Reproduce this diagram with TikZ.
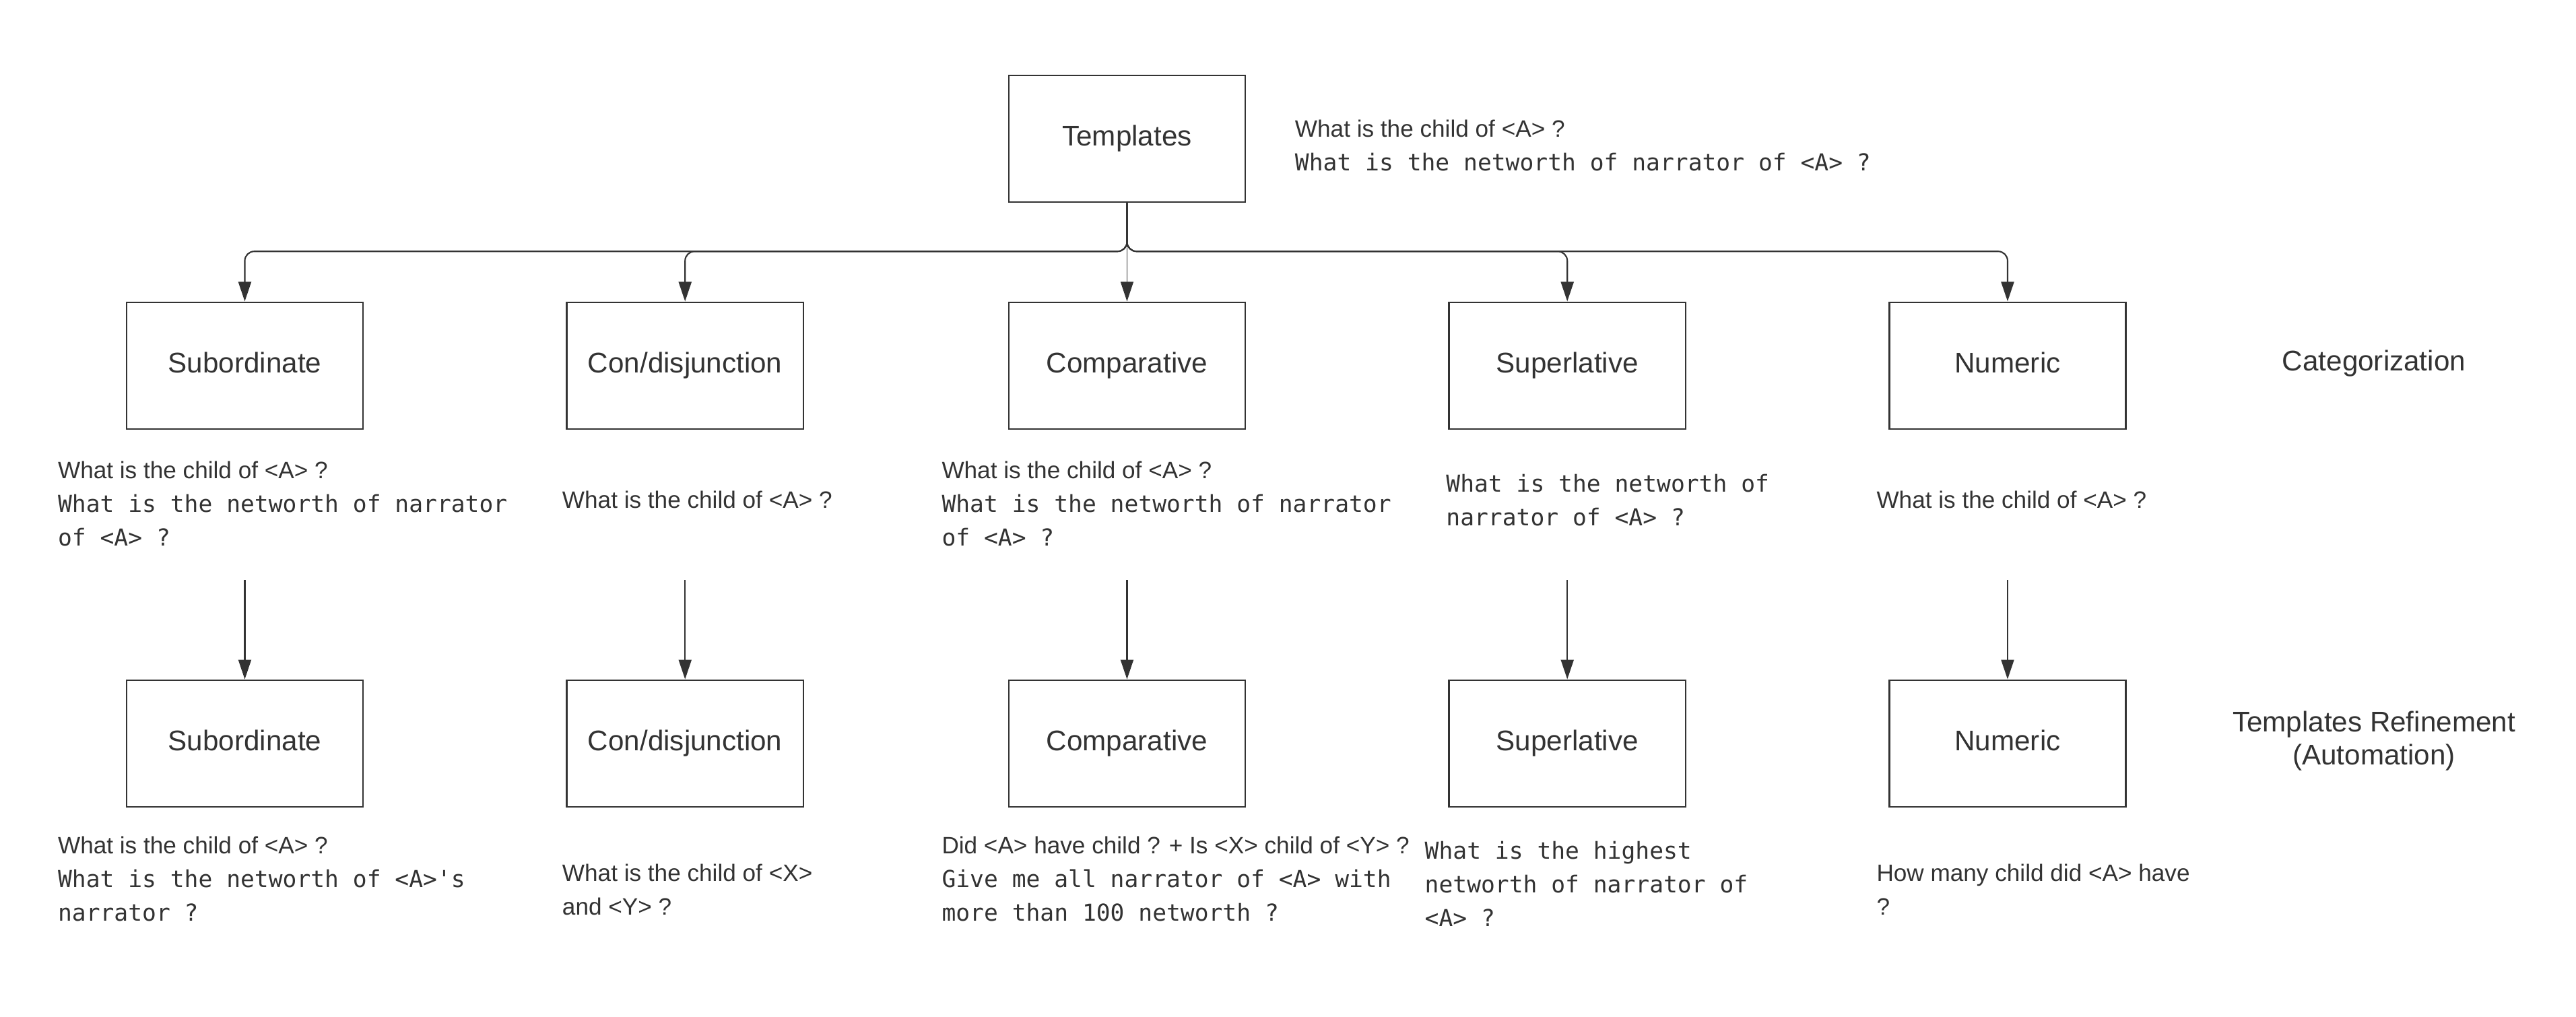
\documentclass[tikz,border=0pt]{standalone}
\usepackage{fontspec}
\setmainfont{Liberation Sans}
\setmonofont[Scale=0.985]{DejaVu Sans Mono}
\usetikzlibrary{arrows.meta}
\definecolor{ink}{HTML}{333333}
\tikzset{
  box/.style={draw=ink, line width=0.7pt, minimum width=3.51cm, minimum height=1.88cm,
    text height=9pt, text depth=3pt, font=\fontsize{12}{14}\selectfont, text=ink},
  qtext/.style={anchor=west, align=left, inner sep=0pt, font=\fontsize{10}{14.2}\selectfont, text=ink},
  lbl/.style={align=center, font=\fontsize{12}{14}\selectfont, text=ink},
  link/.style={draw=ink, line width=0.6pt, -{Triangle[length=0.29cm, width=0.19cm]}},
}
\begin{document}
\begin{tikzpicture}[x=0.02439cm, y=-0.02439cm]
    \useasboundingbox (0,0) rectangle (1568,619);
    \node[box] (tmpl) at (686,84.5) {Templates};
    \node[qtext] (tq) at (788,88.5) {What is the child of <A> ?\\\ttfamily What is the networth of narrator of <A> ?};

    \node[box] (cat1) at (149,222.5) {Subordinate};
    \node[box] (cat2) at (417,222.5) {Con/disjunction};
    \node[box] (cat3) at (686,222.5) {Comparative};
    \node[box] (cat4) at (954,222.5) {Superlative};
    \node[box] (cat5) at (1222,222.5) {Numeric};
    \node[lbl] (catlbl) at (1445,221) {Categorization};

    \node[qtext] (cq1) at (35,306.5) {What is the child of <A> ?\\\ttfamily What is the networth of narrator\\\ttfamily of <A> ?};
    \node[qtext] (cq2) at (342,304) {What is the child of <A> ?};
    \node[qtext] (cq3) at (573,306.5) {What is the child of <A> ?\\\ttfamily What is the networth of narrator\\\ttfamily of <A> ?};
    \node[qtext] (cq4) at (880,304.5) {\ttfamily What is the networth of\\\ttfamily narrator of <A> ?};
    \node[qtext] (cq5) at (1142,304) {What is the child of <A> ?};

    \node[box] (ref1) at (149,452.5) {Subordinate};
    \node[box] (ref2) at (417,452.5) {Con/disjunction};
    \node[box] (ref3) at (686,452.5) {Comparative};
    \node[box] (ref4) at (954,452.5) {Superlative};
    \node[box] (ref5) at (1222,452.5) {Numeric};
    \node[lbl] (reflbl) at (1445,451) {Templates Refinement\\(Automation)};

    \node[qtext] (rq1) at (35,535) {What is the child of <A> ?\\\ttfamily What is the networth of <A>'s\\\ttfamily narrator ?};
    \node[qtext] (rq2) at (342,541.5) {What is the child of <X>\\and <Y> ?};
    \node[qtext] (rq3) at (573,535) {Did <A> have child ? + Is <X> child of <Y> ?\\\ttfamily Give me all narrator of <A> with\\\ttfamily more than 100 networth ?};
    \node[qtext] (rq4) at (867,538) {\ttfamily What is the highest\\\ttfamily networth of narrator of\\\ttfamily <A> ?};
    \node[qtext] (rq5) at (1142,541.5) {How many child did <A> have\\?};

    \coordinate (bus) at (686,153);
    \coordinate (lane) at (0,353);
    \foreach \i in {1,2,4,5}
        \draw[link, rounded corners=4pt] (tmpl.south) -- (tmpl.south |- bus) -| (cat\i.north);
    \draw[link, line width=0.4pt] (tmpl.south) -- (cat3.north);
    \foreach \i in {1,...,5}
        \draw[link] (lane -| ref\i.north) -- (ref\i.north);
\end{tikzpicture}
\end{document}
